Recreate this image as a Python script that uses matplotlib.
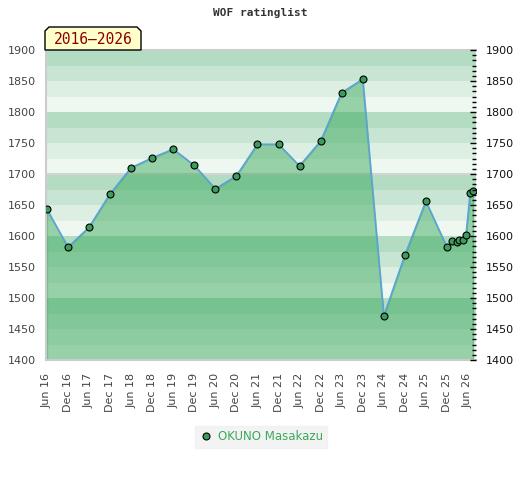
import numpy as np
import pandas as pd
import matplotlib
matplotlib.use("Agg")
from matplotlib import pyplot as plt
from matplotlib import dates as mdates
from matplotlib.ticker import MultipleLocator
from matplotlib.patches import Polygon

# Rating list dates and ratings
dates = pd.to_datetime([
    "2016-06-01", "2016-12-01", "2017-06-01", "2017-12-01", "2018-06-01",
    "2018-12-01", "2019-06-01", "2019-12-01", "2020-06-01", "2020-12-01",
    "2021-06-01", "2021-12-01", "2022-06-01", "2022-12-01", "2023-06-01",
    "2023-12-01", "2024-06-01", "2024-12-01", "2025-06-01", "2025-12-01",
    "2026-01-15", "2026-02-25", "2026-03-15", "2026-04-15", "2026-05-15",
    "2026-06-20", "2026-07-15",
])
ratings = [
    1643, 1582, 1614, 1668, 1710,
    1726, 1740, 1714, 1676, 1697,
    1748, 1748, 1713, 1753, 1831,
    1853, 1471, 1569, 1656, 1582,
    1592, 1591, 1593, 1593, 1601,
    1669, 1672,
]
player = "OKUNO Masakazu"
period = "2016\u20132026"
title = "WOF ratinglist"

band_colors = ["#b3dcc3", "#c8e5d4", "#ddeee3", "#eff7f1"]

W, H = 520, 480
fig = plt.figure(figsize=(W / 100, H / 100), dpi=100)
ax = fig.add_axes([46 / W, 1 - 360 / H, 430 / W, 310 / H])

# striped background, 4 shades per 100 points
for lo in range(1400, 1900, 25):
    shade = band_colors[(1900 - lo - 25) // 25 % 4]
    ax.axhspan(lo, lo + 25, color=shade, lw=0, zorder=0)
ax.axhline(1700, color="#d4d4d4", lw=1.5, zorder=1)

ax.fill_between(dates, ratings, 1400, color="#36a857", alpha=0.48,
                edgecolor="#2e9a50", linewidth=1.0, zorder=2)
ax.plot(dates, ratings, color="#5ba3d9", lw=1.2, zorder=3)
ax.plot(dates, ratings, "o", color="#3d9c5c", mec="black", mew=0.8, ms=5,
        zorder=4, label=player)

ax.set_ylim(1400, 1900)
ax.set_xlim(pd.Timestamp("2016-05-24"), pd.Timestamp("2026-08-10"))

ax.xaxis.set_major_locator(mdates.MonthLocator(bymonth=[6, 12]))
ax.xaxis.set_major_formatter(mdates.DateFormatter("%b %y"))
ax.tick_params(axis="x", length=0, labelrotation=90, labelsize=8,
               labelcolor="#444444", pad=9)

ax.yaxis.set_major_locator(MultipleLocator(50))
ax.tick_params(axis="y", left=False, length=0, labelsize=8,
               labelcolor="#444444", pad=7)

for side in ["top", "left", "bottom"]:
    ax.spines[side].set_color("#cccccc")
    ax.spines[side].set_linewidth(1.5)
ax.spines["right"].set_visible(False)

ax2 = ax.twinx()
ax2.set_ylim(1400, 1900)
ax2.yaxis.set_major_locator(MultipleLocator(50))
ax2.yaxis.set_minor_locator(MultipleLocator(50 / 6))
ax2.tick_params(axis="y", which="major", direction="in", length=4,
                width=1, labelsize=8, labelcolor="#111111", pad=7)
ax2.tick_params(axis="y", which="minor", direction="in", length=3, width=1)
for side in ["top", "left", "bottom", "right"]:
    ax2.spines[side].set_visible(False)

fig.text(0.5, 1 - 13 / H, title, ha="center", va="center",
         family="DejaVu Sans Mono", weight="bold", fontsize=8, color="#333333")

# period label box with cut corners
x0, x1, yt, yb, c = 45, 141, 27, 50, 4
pts = [(x0, yb), (x0, yt + c), (x0 + c, yt), (x1 - c, yt), (x1, yt + c), (x1, yb)]
pts = [(px / W, 1 - py / H) for px, py in pts]
fig.patches.append(Polygon(pts, closed=True, transform=fig.transFigure,
                           facecolor="#ffffcc", edgecolor="black", lw=1, zorder=5))
fig.text((x0 + x1) / 2 / W, 1 - 39 / H, period, ha="center", va="center",
         family="DejaVu Sans Mono", fontsize=10.5, color="#8b0000", zorder=6)

leg = fig.legend(loc="center", bbox_to_anchor=(261 / W, 1 - 437 / H),
                 frameon=True, fontsize=8.5, handletextpad=0.4,
                 handlelength=1.2, borderpad=0.35, fancybox=False)
leg.get_frame().set_facecolor("#f0f0f0")
leg.get_frame().set_edgecolor("#f0f0f0")
for t in leg.get_texts():
    t.set_color("#3aaa5a")

fig.savefig("out.png", dpi=100)
